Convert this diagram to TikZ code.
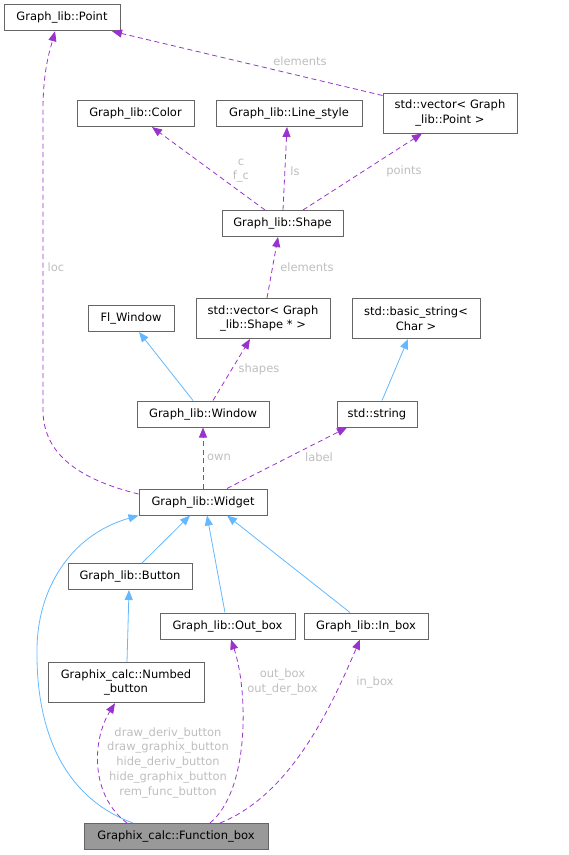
\documentclass[tikz,border=0pt]{standalone}
\usepackage{fontspec}
\setmainfont{DejaVu Sans}
\usepackage{xcolor}
\usetikzlibrary{arrows.meta}

\definecolor{grey40}{HTML}{666666}
\definecolor{grey60}{HTML}{999999}
\definecolor{steelblue1}{HTML}{63B8FF}
\definecolor{darkorchid3}{HTML}{9A32CD}
\definecolor{lblgrey}{HTML}{BEBEBE}

\begin{document}
\begin{tikzpicture}[
  x=1pt, y=-1pt,
  cls/.style={draw=grey40, line width=1pt, fill=white, minimum height=26pt,
    inner sep=0pt, align=center, font=\fontsize{11.5}{14.5}\selectfont},
  twoline/.style={cls, minimum height=40pt},
  root/.style={cls, fill=grey60},
  inh/.style={-{Triangle[length=10pt,width=8pt]}, steelblue1, line width=0.8pt},
  use/.style={-{Triangle[length=10pt,width=8pt]}, darkorchid3, line width=0.8pt,
    dash pattern=on 5pt off 3.5pt},
  lbl/.style={text=lblgrey, inner sep=0pt, align=center,
    font=\fontsize{11.5}{14.7}\selectfont}
]
  \useasboundingbox (0,0) rectangle (569,855);

  % classes
  \node[cls, minimum width=116pt] (point) at (62,17.7) {Graph\_lib::Point};
  \node[twoline, minimum width=134pt] (vecpt) at (450,113) {std::vector< Graph\\\_lib::Point >};
  \node[cls, minimum width=117pt] (color) at (135.5,113.5) {Graph\_lib::Color};
  \node[cls, minimum width=146pt] (lstyle) at (289,113.5) {Graph\_lib::Line\_style};
  \node[cls, minimum width=121pt] (shape) at (282.5,223.5) {Graph\_lib::Shape};
  \node[cls, minimum width=86pt] (flwin) at (131,318.5) {Fl\_Window};
  \node[twoline, minimum width=134pt] (vecsh) at (263,318.5) {std::vector< Graph\\\_lib::Shape * >};
  \node[twoline, minimum width=128pt] (bstr) at (416,318.5) {std::basic\_string<\\Char >};
  \node[cls, minimum width=132pt] (window) at (203,414) {Graph\_lib::Window};
  \node[cls, minimum width=80pt] (string) at (377,414) {std::string};
  \node[cls, minimum width=128pt] (widget) at (203,502) {Graph\_lib::Widget};
  \node[cls, minimum width=124pt] (button) at (130,576.5) {Graph\_lib::Button};
  \node[cls, minimum width=135pt] (outbox) at (227.5,626) {Graph\_lib::Out\_box};
  \node[cls, minimum width=124pt] (inbox) at (366,626) {Graph\_lib::In\_box};
  \node[twoline, minimum width=156pt] (numbed) at (126,682.7) {Graphix\_calc::Numbed\\\_button};
  \node[root, minimum width=184pt] (fbox) at (176,836.5) {Graphix\_calc::Function\_box};

  % inheritance
  \draw[inh] ([xshift=-10pt]window.north) -- ([xshift=8pt]flwin.south);
  \draw[inh] ([xshift=5pt]string.north) -- ([xshift=-8pt]bstr.south);
  \draw[inh] ([xshift=12pt]button.north) -- ([xshift=-13pt]widget.south);
  \draw[inh] ([xshift=-2.5pt]outbox.north) -- ([xshift=4pt]widget.south);
  \draw[inh] ([xshift=-16pt]inbox.north) -- ([xshift=24pt]widget.south);
  \draw[inh] ([xshift=1pt]numbed.north) -- ([xshift=-1pt]button.south);
  \draw[inh] ([xshift=-43pt]fbox.north) .. controls (70,800) and (36,740) .. (37,650)
    .. controls (37,590) and (70,535) .. (widget.south west);

  % usage
  \draw[use] ([yshift=-3pt]vecpt.north west) -- ([xshift=50pt]point.south);
  \draw[use] ([xshift=-17.5pt]shape.north) -- ([xshift=16.5pt]color.south);
  \draw[use] ([xshift=0.5pt]shape.north) -- ([xshift=-2pt]lstyle.south);
  \draw[use] ([xshift=20.5pt]shape.north) -- ([xshift=-28pt]vecpt.south);
  \draw[use] ([xshift=4pt]vecsh.north) -- ([xshift=-4.5pt]shape.south);
  \draw[use] ([xshift=10pt]window.north) -- ([xshift=-13pt]vecsh.south);
  \draw[use] (widget.north) -- (window.south);
  \draw[use] ([xshift=24pt]widget.north) -- ([xshift=-30pt]string.south);
  \draw[use] ([yshift=8pt]widget.west) .. controls (90,482) and (43,460) .. (43,410)
    -- (43,110) .. controls (43,70) and (50,50) .. ([xshift=-7pt]point.south);
  \draw[use] ([xshift=-49pt]fbox.north) .. controls (90,795) and (92,740) .. ([xshift=-11pt]numbed.south);
  \draw[use] ([xshift=34pt]fbox.north) .. controls (250,790) and (248,690) .. ([xshift=3.5pt]outbox.south);
  \draw[use] ([xshift=44pt]fbox.north) .. controls (290,795) and (330,710) .. ([xshift=-6pt]inbox.south);

  % labels
  \node[lbl] (l-elem1) at (300,61) {elements};
  \node[lbl] (l-col) at (241,170.5) {c\\f\_c};
  \node[lbl] (l-ls) at (295,171) {ls};
  \node[lbl] (l-pts) at (404,171) {points};
  \node[lbl] (l-loc) at (56,267) {loc};
  \node[lbl] (l-elem2) at (307,267) {elements};
  \node[lbl] (l-shapes) at (259,369) {shapes};
  \node[lbl] (l-own) at (219,457) {own};
  \node[lbl] (l-label) at (319,457) {label};
  \node[lbl] (l-out) at (282.5,682) {out\_box\\out\_der\_box};
  \node[lbl] (l-in) at (375,682) {in\_box};
  \node[lbl] (l-btn) at (168,762.6) {draw\_deriv\_button\\draw\_graphix\_button\\hide\_deriv\_button\\hide\_graphix\_button\\rem\_func\_button};
\end{tikzpicture}
\end{document}
